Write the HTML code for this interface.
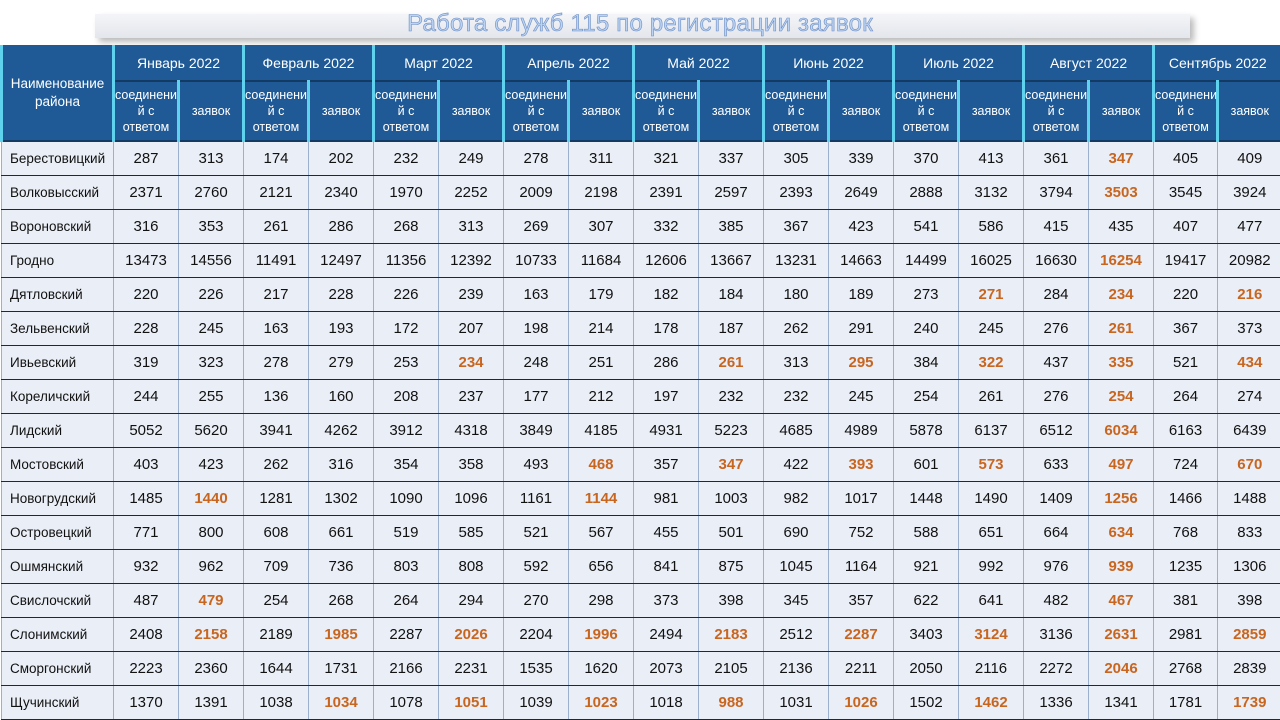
<!DOCTYPE html>
<html><head><meta charset="utf-8"><style>
body{margin:0;width:1280px;height:720px;background:#fff;overflow:hidden;font-family:"Liberation Sans",sans-serif;position:relative}
.bar{position:absolute;left:95px;top:14px;width:1095px;height:24px;background:linear-gradient(#f4f5f8,#e3e6ec);box-shadow:4px 4px 6px #bbb}
.title{position:absolute;left:0;top:10px;width:1280px;text-align:center;font-size:24px;color:#bcd3f2;-webkit-text-stroke:0.6px #6d8fc4;letter-spacing:0.2px}
table{position:absolute;left:0;top:45px;border-collapse:collapse;table-layout:fixed;width:1280px}
td,th{padding:0;text-align:center;overflow:hidden}
th{background:#1f5a96;color:#fff;font-weight:normal;border-left:3px solid #5fd3ee;border-right:2px solid #123a63;border-bottom:2px solid #123a63}
th.m{height:35px;font-size:14px}
th.s{height:58px;font-size:12.5px;line-height:16px}
th.n{font-size:13.5px;line-height:18px}
td{height:33px;border-bottom:1.5px solid #1a2a3a;border-left:1px solid #9bb0cc;background:#eaeef6;font-size:15px;color:#111}
td.r{text-align:left;padding-left:8px;font-size:13.5px}
b{color:#c8651f}
</style></head><body>
<div class="bar"></div><div class="title">Работа служб 115 по регистрации заявок</div>
<table>
<colgroup><col style="width:112px"><col span="16" style="width:65px"><col style="width:64px"><col style="width:64px"></colgroup>
<tr><th class="n" rowspan="2">Наименование района</th><th class="m" colspan="2">Январь 2022</th><th class="m" colspan="2">Февраль 2022</th><th class="m" colspan="2">Март 2022</th><th class="m" colspan="2">Апрель 2022</th><th class="m" colspan="2">Май 2022</th><th class="m" colspan="2">Июнь 2022</th><th class="m" colspan="2">Июль 2022</th><th class="m" colspan="2">Август 2022</th><th class="m" colspan="2">Сентябрь 2022</th></tr>
<tr>
<th class="s">соединени<br>й с<br>ответом</th><th class="s">заявок</th>
<th class="s">соединени<br>й с<br>ответом</th><th class="s">заявок</th>
<th class="s">соединени<br>й с<br>ответом</th><th class="s">заявок</th>
<th class="s">соединени<br>й с<br>ответом</th><th class="s">заявок</th>
<th class="s">соединени<br>й с<br>ответом</th><th class="s">заявок</th>
<th class="s">соединени<br>й с<br>ответом</th><th class="s">заявок</th>
<th class="s">соединени<br>й с<br>ответом</th><th class="s">заявок</th>
<th class="s">соединени<br>й с<br>ответом</th><th class="s">заявок</th>
<th class="s">соединени<br>й с<br>ответом</th><th class="s">заявок</th></tr>
<tr><td class="r">Берестовицкий</td><td>287</td><td>313</td><td>174</td><td>202</td><td>232</td><td>249</td><td>278</td><td>311</td><td>321</td><td>337</td><td>305</td><td>339</td><td>370</td><td>413</td><td>361</td><td><b>347</b></td><td>405</td><td>409</td></tr>
<tr><td class="r">Волковысский</td><td>2371</td><td>2760</td><td>2121</td><td>2340</td><td>1970</td><td>2252</td><td>2009</td><td>2198</td><td>2391</td><td>2597</td><td>2393</td><td>2649</td><td>2888</td><td>3132</td><td>3794</td><td><b>3503</b></td><td>3545</td><td>3924</td></tr>
<tr><td class="r">Вороновский</td><td>316</td><td>353</td><td>261</td><td>286</td><td>268</td><td>313</td><td>269</td><td>307</td><td>332</td><td>385</td><td>367</td><td>423</td><td>541</td><td>586</td><td>415</td><td>435</td><td>407</td><td>477</td></tr>
<tr><td class="r">Гродно</td><td>13473</td><td>14556</td><td>11491</td><td>12497</td><td>11356</td><td>12392</td><td>10733</td><td>11684</td><td>12606</td><td>13667</td><td>13231</td><td>14663</td><td>14499</td><td>16025</td><td>16630</td><td><b>16254</b></td><td>19417</td><td>20982</td></tr>
<tr><td class="r">Дятловский</td><td>220</td><td>226</td><td>217</td><td>228</td><td>226</td><td>239</td><td>163</td><td>179</td><td>182</td><td>184</td><td>180</td><td>189</td><td>273</td><td><b>271</b></td><td>284</td><td><b>234</b></td><td>220</td><td><b>216</b></td></tr>
<tr><td class="r">Зельвенский</td><td>228</td><td>245</td><td>163</td><td>193</td><td>172</td><td>207</td><td>198</td><td>214</td><td>178</td><td>187</td><td>262</td><td>291</td><td>240</td><td>245</td><td>276</td><td><b>261</b></td><td>367</td><td>373</td></tr>
<tr><td class="r">Ивьевский</td><td>319</td><td>323</td><td>278</td><td>279</td><td>253</td><td><b>234</b></td><td>248</td><td>251</td><td>286</td><td><b>261</b></td><td>313</td><td><b>295</b></td><td>384</td><td><b>322</b></td><td>437</td><td><b>335</b></td><td>521</td><td><b>434</b></td></tr>
<tr><td class="r">Кореличский</td><td>244</td><td>255</td><td>136</td><td>160</td><td>208</td><td>237</td><td>177</td><td>212</td><td>197</td><td>232</td><td>232</td><td>245</td><td>254</td><td>261</td><td>276</td><td><b>254</b></td><td>264</td><td>274</td></tr>
<tr><td class="r">Лидский</td><td>5052</td><td>5620</td><td>3941</td><td>4262</td><td>3912</td><td>4318</td><td>3849</td><td>4185</td><td>4931</td><td>5223</td><td>4685</td><td>4989</td><td>5878</td><td>6137</td><td>6512</td><td><b>6034</b></td><td>6163</td><td>6439</td></tr>
<tr><td class="r">Мостовский</td><td>403</td><td>423</td><td>262</td><td>316</td><td>354</td><td>358</td><td>493</td><td><b>468</b></td><td>357</td><td><b>347</b></td><td>422</td><td><b>393</b></td><td>601</td><td><b>573</b></td><td>633</td><td><b>497</b></td><td>724</td><td><b>670</b></td></tr>
<tr><td class="r">Новогрудский</td><td>1485</td><td><b>1440</b></td><td>1281</td><td>1302</td><td>1090</td><td>1096</td><td>1161</td><td><b>1144</b></td><td>981</td><td>1003</td><td>982</td><td>1017</td><td>1448</td><td>1490</td><td>1409</td><td><b>1256</b></td><td>1466</td><td>1488</td></tr>
<tr><td class="r">Островецкий</td><td>771</td><td>800</td><td>608</td><td>661</td><td>519</td><td>585</td><td>521</td><td>567</td><td>455</td><td>501</td><td>690</td><td>752</td><td>588</td><td>651</td><td>664</td><td><b>634</b></td><td>768</td><td>833</td></tr>
<tr><td class="r">Ошмянский</td><td>932</td><td>962</td><td>709</td><td>736</td><td>803</td><td>808</td><td>592</td><td>656</td><td>841</td><td>875</td><td>1045</td><td>1164</td><td>921</td><td>992</td><td>976</td><td><b>939</b></td><td>1235</td><td>1306</td></tr>
<tr><td class="r">Свислочский</td><td>487</td><td><b>479</b></td><td>254</td><td>268</td><td>264</td><td>294</td><td>270</td><td>298</td><td>373</td><td>398</td><td>345</td><td>357</td><td>622</td><td>641</td><td>482</td><td><b>467</b></td><td>381</td><td>398</td></tr>
<tr><td class="r">Слонимский</td><td>2408</td><td><b>2158</b></td><td>2189</td><td><b>1985</b></td><td>2287</td><td><b>2026</b></td><td>2204</td><td><b>1996</b></td><td>2494</td><td><b>2183</b></td><td>2512</td><td><b>2287</b></td><td>3403</td><td><b>3124</b></td><td>3136</td><td><b>2631</b></td><td>2981</td><td><b>2859</b></td></tr>
<tr><td class="r">Сморгонский</td><td>2223</td><td>2360</td><td>1644</td><td>1731</td><td>2166</td><td>2231</td><td>1535</td><td>1620</td><td>2073</td><td>2105</td><td>2136</td><td>2211</td><td>2050</td><td>2116</td><td>2272</td><td><b>2046</b></td><td>2768</td><td>2839</td></tr>
<tr><td class="r">Щучинский</td><td>1370</td><td>1391</td><td>1038</td><td><b>1034</b></td><td>1078</td><td><b>1051</b></td><td>1039</td><td><b>1023</b></td><td>1018</td><td><b>988</b></td><td>1031</td><td><b>1026</b></td><td>1502</td><td><b>1462</b></td><td>1336</td><td>1341</td><td>1781</td><td><b>1739</b></td></tr>
</table>
</body></html>
